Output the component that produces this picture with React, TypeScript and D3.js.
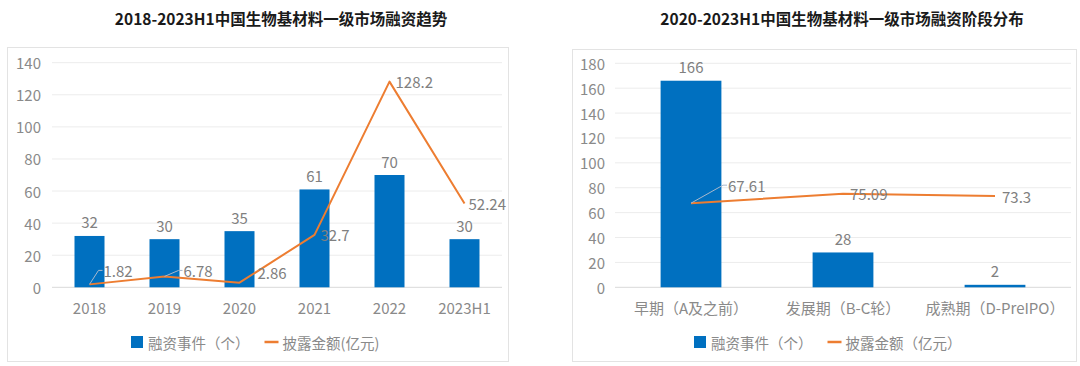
import React from 'react';
import * as d3 from 'd3';

const leftTitle = '2018-2023H1中国生物基材料一级市场融资趋势';
const leftCategories = ['2018', '2019', '2020', '2021', '2022', '2023H1'];
const leftEvents = [32, 30, 35, 61, 70, 30];
const leftAmounts = [1.82, 6.78, 2.86, 32.7, 128.2, 52.24];
const leftTicks = [0, 20, 40, 60, 80, 100, 120, 140];
const leftLegend = ['融资事件（个）', '披露金额(亿元)'];

const rightTitle = '2020-2023H1中国生物基材料一级市场融资阶段分布';
const rightCategories = ['早期（A及之前）', '发展期（B-C轮）', '成熟期（D-PreIPO）'];
const rightEvents = [166, 28, 2];
const rightAmounts = [67.61, 75.09, 73.3];
const rightTicks = [0, 20, 40, 60, 80, 100, 120, 140, 160, 180];
const rightLegend = ['融资事件（个）', '披露金额（亿元）'];

const FONT = '"Noto Sans CJK SC", "Noto Sans", sans-serif';
const BLUE = '#0070C0';
const ORANGE = '#ED7D31';
const GRID = '#ececec';
const AXIS_TXT = '#8a8a8a';
const LABEL_TXT = '#808080';

type Nudge = { dx: number; dy: number; leader?: boolean };

type Props = {
  title: string;
  titleX: number;
  box: [number, number, number, number];
  plotX: [number, number];
  plotY: [number, number];
  tickRight: number;
  categories: string[];
  events: number[];
  amounts: number[];
  ticks: number[];
  legend: string[];
  legendX: number;
  nudges: Nudge[];
};

function Combo(p: Props) {
  const x = d3.scaleBand<string>().domain(p.categories).range(p.plotX).paddingInner(0.6).paddingOuter(0.3);
  const band = d3.scaleBand<string>().domain(p.categories).range(p.plotX);
  const maxT = p.ticks[p.ticks.length - 1];
  const y = d3.scaleLinear().domain([0, maxT]).range([p.plotY[1], p.plotY[0]]);
  const cx = (c: string) => (band(c) as number) + band.bandwidth() / 2;
  const bw = band.bandwidth() * 0.4;
  const line = d3
    .line<number>()
    .x((_, i) => cx(p.categories[i]))
    .y((d) => y(d));
  const [bx, by, bwid, bh] = p.box;
  const legendY = 342;
  const t1w = p.legend[0].length * 14.5;
  return (
    <g fontFamily={FONT}>
      <text x={p.titleX} y={18} textAnchor="middle" dominantBaseline="central" fontSize={15.5} fontWeight={700} fill="#1a1a1a">
        {p.title}
      </text>
      <rect x={bx} y={by} width={bwid} height={bh} fill="#fff" stroke="#e3e3e3" strokeWidth={1} />
      {p.ticks.map((t) => (
        <g key={t}>
          <line x1={p.plotX[0]} x2={p.plotX[1]} y1={y(t)} y2={y(t)} stroke={t === 0 ? '#d9d9d9' : GRID} strokeWidth={1} />
          <text x={p.tickRight} y={y(t)} textAnchor="end" dominantBaseline="central" fontSize={15} fill={AXIS_TXT}>
            {t}
          </text>
        </g>
      ))}
      {p.categories.map((c, i) => (
        <g key={c}>
          <rect x={cx(c) - bw / 2} y={y(p.events[i])} width={bw} height={y(0) - y(p.events[i])} fill={BLUE} />
          <text x={cx(c)} y={y(p.events[i]) - 14} textAnchor="middle" dominantBaseline="central" fontSize={15} fill={LABEL_TXT}>
            {p.events[i]}
          </text>
          <text x={cx(c)} y={p.plotY[1] + 20} textAnchor="middle" dominantBaseline="central" fontSize={15} fill={AXIS_TXT}>
            {c}
          </text>
        </g>
      ))}
      <path d={line(p.amounts) || ''} fill="none" stroke={ORANGE} strokeWidth={2} strokeLinejoin="round" />
      {p.amounts.map((v, i) => {
        const px = cx(p.categories[i]);
        const py = y(v);
        const n = p.nudges[i];
        const lx = px + n.dx;
        const ly = py + n.dy;
        return (
          <g key={i}>
            {n.leader && (
              <polyline points={`${px},${py} ${lx - 5},${ly} ${lx - 1},${ly}`} fill="none" stroke="#a9b8cc" strokeWidth={1} />
            )}
            <text x={lx} y={ly} dominantBaseline="central" fontSize={15} fill={LABEL_TXT}>
              {v}
            </text>
          </g>
        );
      })}
      <g>
        <rect x={p.legendX} y={legendY - 6} width={12} height={12} fill={BLUE} />
        <text x={p.legendX + 17} y={legendY} dominantBaseline="central" fontSize={14.5} fill={AXIS_TXT}>
          {p.legend[0]}
        </text>
        <line x1={p.legendX + 17 + t1w + 15} x2={p.legendX + 17 + t1w + 29} y1={legendY} y2={legendY} stroke={ORANGE} strokeWidth={2.5} />
        <text x={p.legendX + 17 + t1w + 33} y={legendY} dominantBaseline="central" fontSize={14.5} fill={AXIS_TXT}>
          {p.legend[1]}
        </text>
      </g>
    </g>
  );
}

export default function App() {
  return (
    <svg width={1080} height={366} style={{ position: 'absolute', left: 0, top: 0, background: '#fff' }}>
      <Combo
        title={leftTitle}
        titleX={281}
        box={[7.5, 47.5, 501, 314]}
        plotX={[52, 502]}
        plotY={[62.7, 287.3]}
        tickRight={41}
        categories={leftCategories}
        events={leftEvents}
        amounts={leftAmounts}
        ticks={leftTicks}
        legend={leftLegend}
        legendX={131}
        nudges={[
          { dx: 14, dy: -14, leader: true },
          { dx: 19, dy: -6, leader: true },
          { dx: 18, dy: -10 },
          { dx: 6, dy: 0 },
          { dx: 6, dy: 0 },
          { dx: 4, dy: 0 },
        ]}
      />
      <Combo
        title={rightTitle}
        titleX={842}
        box={[572.5, 49.5, 504, 312]}
        plotX={[615, 1071]}
        plotY={[63.3, 287.3]}
        tickRight={605}
        categories={rightCategories}
        events={rightEvents}
        amounts={rightAmounts}
        ticks={rightTicks}
        legend={rightLegend}
        legendX={694}
        nudges={[
          { dx: 37, dy: -18, leader: true },
          { dx: 7, dy: 0 },
          { dx: 7, dy: 0 },
        ]}
      />
    </svg>
  );
}
